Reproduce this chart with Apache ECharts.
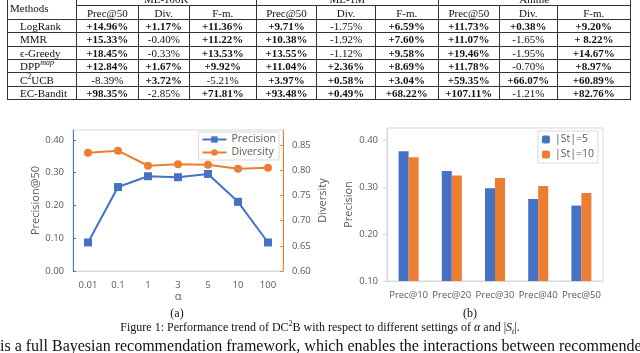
<!DOCTYPE html>
<html>
<head>
<meta charset="utf-8">
<script src="https://cdn.jsdelivr.net/npm/echarts@6/dist/echarts.min.js"></script>
<style>
  html, body { margin: 0; padding: 0; background: #fff; }
  body { width: 640px; height: 353px; position: relative; overflow: hidden; font-family: 'Liberation Serif', 'Times New Roman', serif; color: #111; }
  #chart { position: absolute; left: 0; top: 0; width: 640px; height: 353px; }
  #results { position: absolute; left: 7px; top: -8px; border-collapse: collapse; table-layout: fixed; font-size: 11px; }
  #results td { border: 1px solid #333; padding: 0; height: 12.4px; line-height: 12px; text-align: center; white-space: nowrap; overflow: hidden; }
  #results td.method { text-align: left; padding-left: 12px; }
  #results td.head { text-align: left; padding-left: 2px; vertical-align: middle; padding-top: 4px; }
  #results sup { font-size: 8px; line-height: 0; }
  .cap { position: absolute; font-size: 12px; white-space: nowrap; }
</style>
</head>
<body>
<div id="chart"></div>
<table id="results"></table>
<div class="cap" style="left:0;width:354px;top:306px;text-align:center">(a)</div>
<div class="cap" style="left:300px;width:340px;top:306px;text-align:center">(b)</div>
<div class="cap" style="left:0;width:640px;top:319px;text-align:center">Figure 1: Performance trend of DC<sup style="font-size:8px">2</sup>B with respect to different settings of <i>α</i> and |<i>S<sub style="font-size:8px">t</sub></i>|.</div>
<div class="cap" style="left:0;top:337px;font-size:16px">is a full Bayesian recommendation framework, which enables the interactions between recommender</div>
<script>
// table
const datasets = ['ML-100K', 'ML-1M', 'Anime']
const metrics = ['Prec@50', 'Div.', 'F-m.']
const colWidths = [68.7, 62.3, 50.7, 67, 60.7, 58.3, 63.3, 60.7, 58.3, 72.7]
const methods = ['LogRank', 'MMR', 'ϵ-Greedy', 'DPP<sup><i>map</i></sup>', 'C<sup>2</sup>UCB', 'EC-Bandit']
const logRankGains = ['+14.96%', '+1.17%', '+11.36%', '+9.71%', '-1.75%', '+6.59%', '+11.73%', '+0.38%', '+9.20%']
const mmrGains = ['+15.33%', '-0.40%', '+11.22%', '+10.38%', '-1.92%', '+7.60%', '+11.07%', '-1.65%', '+ 8.22%']
const greedyGains = ['+18.45%', '-0.33%', '+13.53%', '+13.55%', '-1.12%', '+9.58%', '+19.46%', '-1.95%', '+14.67%']
const dppGains = ['+12.84%', '+1.67%', '+9.92%', '+11.04%', '+2.36%', '+8.69%', '+11.78%', '-0.70%', '+8.97%']
const c2ucbGains = ['-8.39%', '+3.72%', '-5.21%', '+3.97%', '+0.58%', '+3.04%', '+59.35%', '+66.07%', '+60.89%']
const ecBanditGains = ['+98.35%', '-2.85%', '+71.81%', '+93.48%', '+0.49%', '+68.22%', '+107.11%', '-1.21%', '+82.76%']
const gainRows = [logRankGains, mmrGains, greedyGains, dppGains, c2ucbGains, ecBanditGains]

// chart (a)
const alphaLabels = ['0.01', '0.1', '1', '3', '5', '10', '100']
const precisionByAlpha = [0.087, 0.256, 0.289, 0.286, 0.296, 0.211, 0.087]
const diversityByAlpha = [0.835, 0.839, 0.809, 0.812, 0.811, 0.803, 0.805]
const precisionTicks = [0, 0.1, 0.2, 0.3, 0.4]
const diversityTicks = [0.6, 0.65, 0.7, 0.75, 0.8, 0.85]

// chart (b)
const cutoffLabels = ['Prec@10', 'Prec@20', 'Prec@30', 'Prec@40', 'Prec@50']
const precSt5 = [0.377, 0.335, 0.298, 0.275, 0.261]
const precSt10 = [0.364, 0.325, 0.320, 0.303, 0.288]
const barTicks = [0.1, 0.2, 0.3, 0.4]

let html = '<colgroup>' + colWidths.map(w => `<col style="width:${w}px">`).join('') + '</colgroup>'
html += '<tr><td class="head" rowspan="2">Methods</td>' + datasets.map(d => `<td colspan="3">${d}</td>`).join('') + '</tr>'
html += '<tr>' + datasets.map(() => metrics.map(m => `<td>${m}</td>`).join('')).join('') + '</tr>'
methods.forEach((m, i) => {
  html += `<tr><td class="method">${m}</td>` +
    gainRows[i].map(v => v.startsWith('+') ? `<td><b>${v}</b></td>` : `<td>${v}</td>`).join('') + '</tr>'
})
document.getElementById('results').innerHTML = html

const blue = '#4472C4'
const orange = '#ED7D31'
const grey = '#595959'
const frame = '#d9d9d9'
const font = 'Open Sans'
const fmt = v => v.toFixed(2)

const chart = echarts.init(document.getElementById('chart'))
chart.setOption({
  animation: false,
  textStyle: { fontFamily: font },
  color: [blue, orange],
  grid: [
    { left: 73, top: 130, right: 357, bottom: 82, show: true, borderColor: frame, borderWidth: 1 },
    { left: 387, top: 128, right: 37, bottom: 72, show: true, borderColor: frame, borderWidth: 1 },
  ],
  legend: [
    {
      data: ['Precision', 'Diversity'],
      orient: 'vertical', right: 361, top: 132, itemGap: 2, itemWidth: 24, itemHeight: 8,
      padding: [2, 3], backgroundColor: '#fff', borderColor: frame, borderWidth: 1,
      textStyle: { fontSize: 10.5, color: grey, fontFamily: font },
    },
    {
      data: ['|St|=5', '|St|=10'],
      orient: 'vertical', right: 42, top: 131, itemGap: 4, itemWidth: 8, itemHeight: 8,
      padding: [3, 4], backgroundColor: '#fff', borderColor: frame, borderWidth: 1,
      textStyle: { fontSize: 10.5, color: grey, fontFamily: font },
    },
  ],
  xAxis: [
    {
      gridIndex: 0, type: 'category', data: alphaLabels,
      name: 'α', nameLocation: 'middle', nameGap: 15,
      nameTextStyle: { color: grey, fontSize: 11 },
      axisLine: { lineStyle: { color: frame } }, axisTick: { show: false },
      axisLabel: { color: grey, fontSize: 9.5, margin: 9 },
    },
    {
      gridIndex: 1, type: 'category', data: cutoffLabels,
      axisLine: { lineStyle: { color: frame } }, axisTick: { show: false },
      axisLabel: { color: grey, fontSize: 9.5, margin: 9, interval: 0 },
    },
  ],
  yAxis: [
    {
      gridIndex: 0, type: 'value', min: 0, max: 0.43,
      name: 'Precision@50', nameLocation: 'middle', nameGap: 31,
      nameTextStyle: { color: grey, fontSize: 11 },
      axisLine: { show: true, lineStyle: { color: blue } },
      axisTick: { show: true, inside: true, length: 3, customValues: precisionTicks },
      axisLabel: { color: grey, fontSize: 9.5, margin: 9, formatter: fmt, customValues: precisionTicks },
      splitLine: { show: false },
    },
    {
      gridIndex: 0, type: 'value', min: 0.6, max: 0.88, position: 'right',
      name: 'Diversity', nameLocation: 'middle', nameGap: 34,
      nameTextStyle: { color: grey, fontSize: 11 },
      axisLine: { show: true, lineStyle: { color: orange } },
      axisTick: { show: true, inside: true, length: 3, customValues: diversityTicks },
      axisLabel: { color: grey, fontSize: 9.5, margin: 9, formatter: fmt, customValues: diversityTicks },
      splitLine: { show: false },
    },
    {
      gridIndex: 1, type: 'value', min: 0.1, max: 0.4266,
      name: 'Precision', nameLocation: 'middle', nameGap: 33,
      nameTextStyle: { color: grey, fontSize: 11 },
      axisLine: { show: true, lineStyle: { color: frame } },
      axisTick: { show: true, length: 4, lineStyle: { color: frame }, customValues: barTicks },
      axisLabel: { color: grey, fontSize: 9.5, margin: 9, formatter: fmt, customValues: barTicks },
      splitLine: { show: false },
    },
  ],
  series: [
    {
      name: 'Precision', type: 'line', xAxisIndex: 0, yAxisIndex: 0, data: precisionByAlpha,
      symbol: 'rect', symbolSize: 8, lineStyle: { width: 2, color: blue }, itemStyle: { color: blue },
    },
    {
      name: 'Diversity', type: 'line', xAxisIndex: 0, yAxisIndex: 1, data: diversityByAlpha,
      symbol: 'circle', symbolSize: 8, lineStyle: { width: 2, color: orange }, itemStyle: { color: orange },
    },
    {
      name: '|St|=5', type: 'bar', xAxisIndex: 1, yAxisIndex: 2, data: precSt5,
      barWidth: 10, barGap: '0%', itemStyle: { color: blue },
    },
    {
      name: '|St|=10', type: 'bar', xAxisIndex: 1, yAxisIndex: 2, data: precSt10,
      barWidth: 10, barGap: '0%', itemStyle: { color: orange },
    },
  ],
})
</script>
</body>
</html>
